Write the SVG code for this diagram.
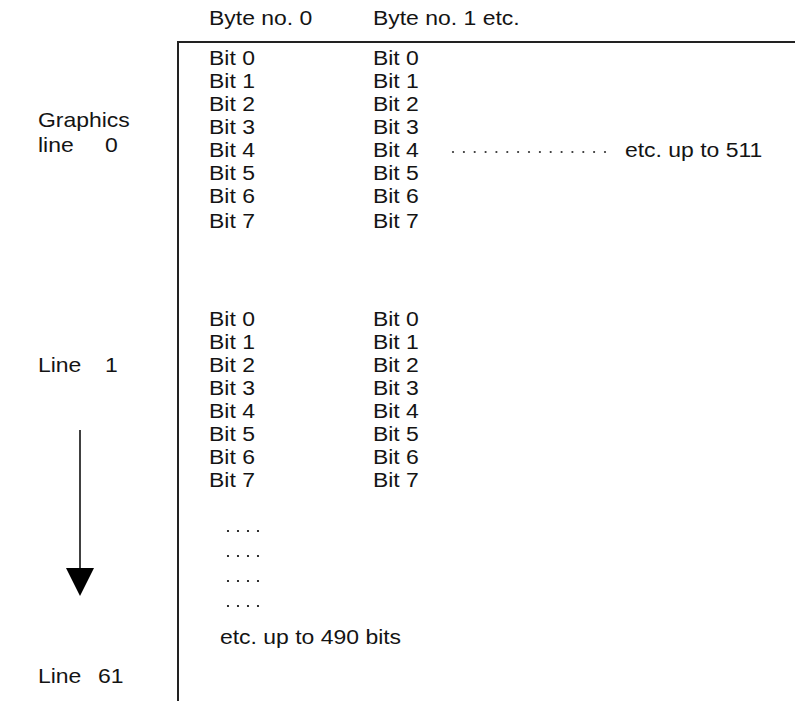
<svg xmlns="http://www.w3.org/2000/svg" width="795" height="701" viewBox="0 0 795 701">
<style>
  text { font-family: "Liberation Sans", Arial, Helvetica, sans-serif; font-size: 20.5px; fill: #141414; }
  .frame { stroke: #222; stroke-width: 2; fill: none; }
  .dots circle { fill: #333; }
</style>
<defs>
  <g id="dot4">
    <circle cx="0" cy="0" r="1.1"/>
    <circle cx="10" cy="0" r="1.1"/>
    <circle cx="20" cy="0" r="1.1"/>
    <circle cx="30" cy="0" r="1.1"/>
  </g>
</defs>
<rect width="795" height="701" fill="#ffffff"/>
<g id="frame">
  <path class="frame" d="M178,701 V42 H795"/>
</g>
<g id="connectors">
  <line x1="80" y1="430" x2="80" y2="575" stroke="#111" stroke-width="1.6"/>
  <polygon points="66,568 94,568 80,596" fill="#000"/>
  <g class="dots">
    <circle cx="453" cy="152" r="1.1"/><circle cx="463.9" cy="152" r="1.1"/><circle cx="474.7" cy="152" r="1.1"/>
    <circle cx="485.6" cy="152" r="1.1"/><circle cx="496.4" cy="152" r="1.1"/><circle cx="507.3" cy="152" r="1.1"/>
    <circle cx="518.1" cy="152" r="1.1"/><circle cx="529" cy="152" r="1.1"/><circle cx="539.9" cy="152" r="1.1"/>
    <circle cx="550.7" cy="152" r="1.1"/><circle cx="561.6" cy="152" r="1.1"/><circle cx="572.4" cy="152" r="1.1"/>
    <circle cx="583.3" cy="152" r="1.1"/><circle cx="594.1" cy="152" r="1.1"/><circle cx="605" cy="152" r="1.1"/>
    <use href="#dot4" x="228" y="531"/>
    <use href="#dot4" x="228" y="556"/>
    <use href="#dot4" x="228" y="581"/>
    <use href="#dot4" x="228" y="606"/>
  </g>
</g>
<g transform="scale(1.12,1)">
  <g id="header">
    <text x="186.6" y="25">Byte no. 0</text>
    <text x="333" y="25">Byte no. 1 etc.</text>
  </g>
  <g id="labels">
    <text x="33.9" y="127">Graphics</text>
    <text x="33.9" y="152">line</text>
    <text x="93.7" y="152">0</text>
    <text x="33.9" y="372">Line</text>
    <text x="93.7" y="372">1</text>
    <text x="33.9" y="683">Line</text>
    <text x="87.5" y="683">61</text>
  </g>
  <g id="byte0-line0">
    <text x="186.6" y="65">Bit 0</text>
    <text x="186.6" y="88">Bit 1</text>
    <text x="186.6" y="111">Bit 2</text>
    <text x="186.6" y="134">Bit 3</text>
    <text x="186.6" y="157">Bit 4</text>
    <text x="186.6" y="180">Bit 5</text>
    <text x="186.6" y="203">Bit 6</text>
    <text x="186.6" y="228">Bit 7</text>
  </g>
  <g id="byte1-line0">
    <text x="333" y="65">Bit 0</text>
    <text x="333" y="88">Bit 1</text>
    <text x="333" y="111">Bit 2</text>
    <text x="333" y="134">Bit 3</text>
    <text x="333" y="157">Bit 4</text>
    <text x="333" y="180">Bit 5</text>
    <text x="333" y="203">Bit 6</text>
    <text x="333" y="228">Bit 7</text>
  </g>
  <g id="etc511">
    <text x="558" y="157">etc. up to 511</text>
  </g>
  <g id="byte0-line1">
    <text x="186.6" y="326">Bit 0</text>
    <text x="186.6" y="349">Bit 1</text>
    <text x="186.6" y="372">Bit 2</text>
    <text x="186.6" y="395">Bit 3</text>
    <text x="186.6" y="418">Bit 4</text>
    <text x="186.6" y="441">Bit 5</text>
    <text x="186.6" y="464">Bit 6</text>
    <text x="186.6" y="487">Bit 7</text>
  </g>
  <g id="byte1-line1">
    <text x="333" y="326">Bit 0</text>
    <text x="333" y="349">Bit 1</text>
    <text x="333" y="372">Bit 2</text>
    <text x="333" y="395">Bit 3</text>
    <text x="333" y="418">Bit 4</text>
    <text x="333" y="441">Bit 5</text>
    <text x="333" y="464">Bit 6</text>
    <text x="333" y="487">Bit 7</text>
  </g>
  <g id="etc490">
    <text x="196.4" y="644">etc. up to 490 bits</text>
  </g>
</g>
</svg>
